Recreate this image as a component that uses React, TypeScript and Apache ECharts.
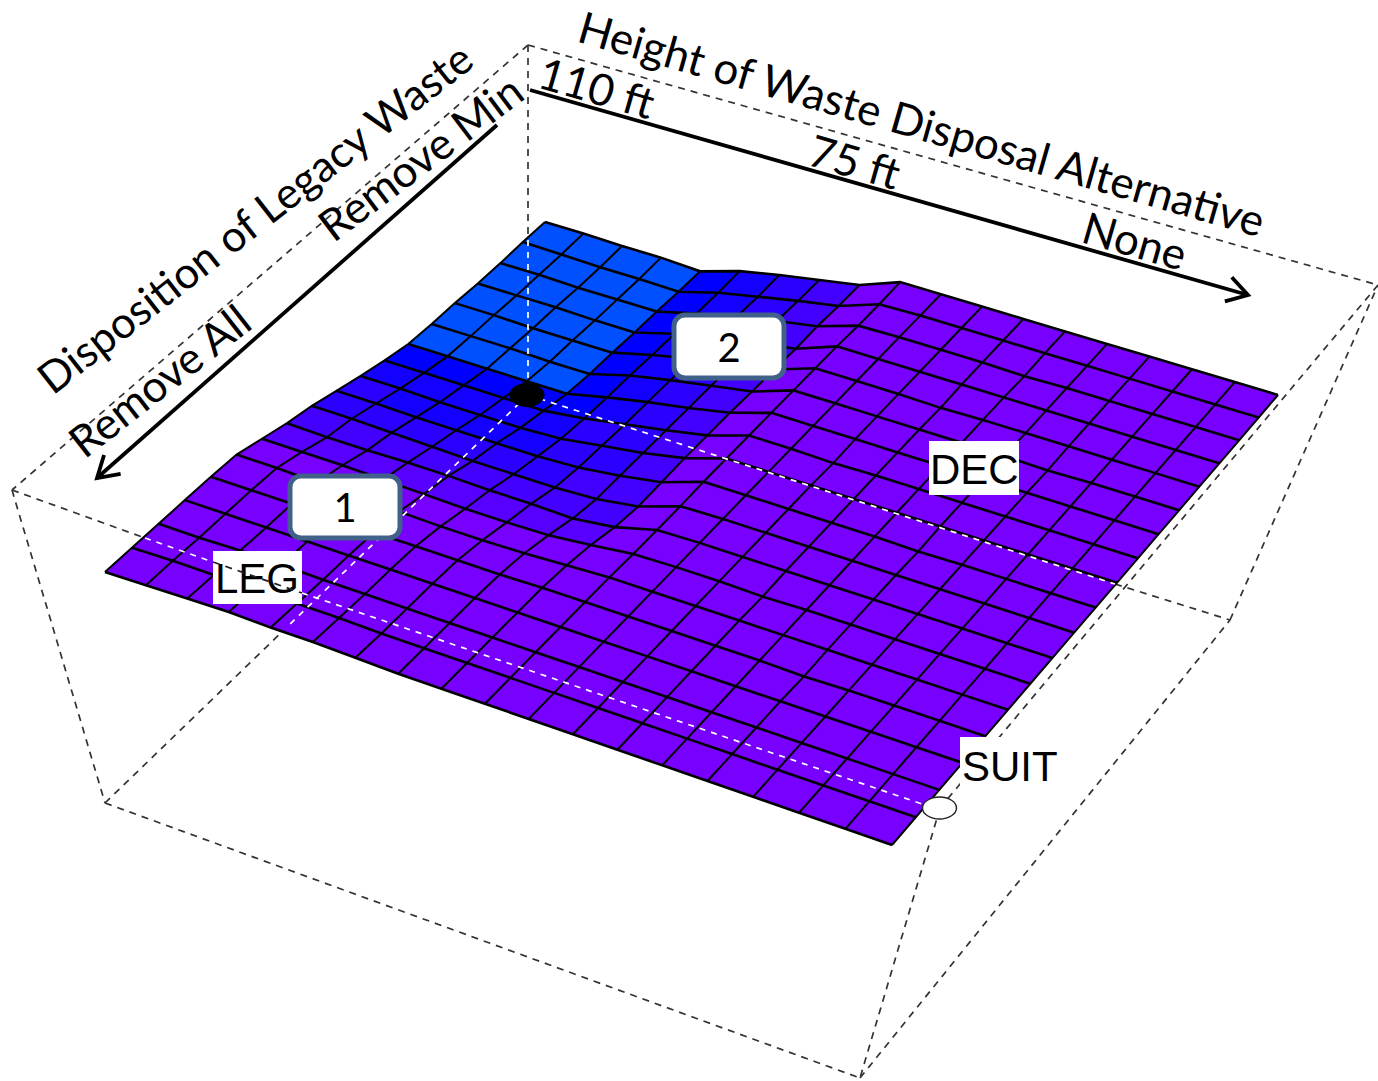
import React, { useEffect, useRef } from "react";
import * as echarts from "echarts";

// Surface depression below the flat plane, one list per row (back edge to front edge), 19 columns (left to right).
const dipR0 = [46, 46, 47, 47, 49, 37, 29, 22, 15, 0, 0, 0, 0, 0, 0, 0, 0, 0, 0];
const dipR1 = [46, 47, 48, 48, 49, 38, 30, 22, 15, 1, 0, 0, 0, 0, 0, 0, 0, 0, 0];
const dipR2 = [47, 47, 48, 48, 48, 38, 29, 21, 14, 1, 0, 0, 0, 1, 0, 0, 0, 0, 0];
const dipR3 = [47, 47, 47, 48, 48, 37, 29, 22, 15, 0, 0, 0, 0, 0, 0, 0, 0, 0, 0];
const dipR4 = [46, 46, 47, 47, 47, 37, 28, 21, 14, 0, 0, 0, 1, 0, 0, 0, 0, 0, 0];
const dipR5 = [46, 46, 46, 47, 47, 36, 28, 21, 14, 0, 0, 0, 0, 0, 0, 1, 0, 0, 0];
const dipR6 = [45, 45, 45, 45, 45, 36, 28, 21, 13, 0, 0, 0, 0, 0, 0, 0, 0, 0, 0];
const dipR7 = [40, 40, 40, 40, 40, 35, 28, 21, 13, 0, 0, 1, 0, 0, 0, 0, 0, 0, 0];
const dipR8 = [34, 34, 35, 35, 35, 33, 27, 21, 13, 0, 0, 0, 0, 0, 0, 0, 0, 0, 0];
const dipR9 = [27, 27, 28, 28, 28, 28, 26, 21, 14, 0, 0, 0, 0, 0, 1, 0, 0, 0, 0];
const dipR10 = [20, 20, 21, 22, 23, 23, 23, 21, 15, 1, 0, 0, 0, 0, 0, 0, 0, 0, 0];
const dipR11 = [15, 16, 16, 15, 15, 16, 16, 17, 12, 1, 0, 0, 0, 0, 0, 0, 0, 0, 0];
const dipR12 = [8, 8, 8, 9, 10, 11, 11, 10, 6, 1, 0, 0, 1, 0, 0, 0, 0, 0, 0];
const dipR13 = [1, 1, 2, 3, 4, 5, 5, 4, 2, 0, 0, 0, 0, 0, 0, 0, 0, 0, 0];
const dipR14 = [0, 0, 0, 1, 1, 1, 1, 1, 0, 0, 0, 0, 0, 0, 1, 0, 0, 0, 0];
const dipR15 = [0, 0, 0, 0, 0, 0, 0, 0, 0, 0, 0, 0, 0, 0, 0, 0, 0, 0, 0];
const dipR16 = [0, 0, -1, -1, 0, 0, 0, 0, 0, 0, 0, 0, 0, 0, 0, 0, 0, 0, 0];
const dipR17 = [0, -1, -1, -2, -1, -1, 0, 0, 0, 0, 0, 0, 0, 0, 0, 0, 0, 0, 0];
const dipR18 = [0, -1, -2, -3, -2, -2, -1, 0, 0, 0, 0, 0, 0, 0, 0, 0, 0, 0, 0];
const dipRows = [dipR0, dipR1, dipR2, dipR3, dipR4, dipR5, dipR6, dipR7, dipR8, dipR9, dipR10, dipR11, dipR12, dipR13, dipR14, dipR15, dipR16, dipR17, dipR18];

// Colour bands: cell mean depression from this value upward gets the colour.
const bandFrom = [45, 38, 31, 23, 15, 11, -99];
const bandColor = ["#0050ff", "#0000ff", "#1400ff", "#2c00ff", "#4400ff", "#5800ff", "#7700ff"];

const heightTicks = ["110 ft", "75 ft", "None"];
const dispositionTicks = ["Remove All", "Remove Min"];
const pointLabels = ["LEG", "DEC", "SUIT"];

const N = dipRows.length - 1;
const BACK = [545, 176], RIGHT = [1278, 395], FRONT = [892, 845], LEFT = [105, 572];

const hom = (() => {
  const [x0, y0] = BACK, [x1, y1] = RIGHT, [x2, y2] = FRONT, [x3, y3] = LEFT;
  const dx1 = x1 - x2, dx2 = x3 - x2, sx = x0 - x1 + x2 - x3;
  const dy1 = y1 - y2, dy2 = y3 - y2, sy = y0 - y1 + y2 - y3;
  const den = dx1 * dy2 - dx2 * dy1;
  const g = (sx * dy2 - dx2 * sy) / den, h = (dx1 * sy - sx * dy1) / den;
  return { a: x1 - x0 + g * x1, b: x3 - x0 + h * x3, c: x0, d: y1 - y0 + g * y1, e: y3 - y0 + h * y3, f: y0, g, h };
})();

function project(c: number, r: number): number[] {
  const u = c / N, v = r / N;
  const w = hom.g * u + hom.h * v + 1;
  return [(hom.a * u + hom.b * v + hom.c) / w, (hom.d * u + hom.e * v + hom.f) / w + dipRows[r][c]];
}

function bandOf(mean: number): string {
  for (let i = 0; i < bandFrom.length; i++) if (mean >= bandFrom[i]) return bandColor[i];
  return bandColor[bandColor.length - 1];
}

// Box edges, black where they run over paper and white where they cross the surface.
const boxDark = [
  [528, 45, 12, 490], [528, 45, 1378, 285], [528, 45, 528, 240],
  [12, 490, 145, 538], [12, 490, 105, 803], [105, 803, 860, 1078],
  [860, 1078, 1230, 620], [1230, 620, 1378, 285], [1378, 285, 940, 808],
  [940, 808, 860, 1078], [105, 803, 286, 628], [1115, 584, 1230, 620],
  [213, 562, 302, 593],
];
const boxLight = [
  [528, 240, 528, 395], [528, 395, 286, 628], [528, 395, 1115, 584],
  [145, 538, 213, 562], [302, 593, 925, 805],
];

const cellData: number[][] = [];
for (let r = 0; r < N; r++) for (let c = 0; c < N; c++) cellData.push([c, r]);
const lineData: number[][] = [];
for (let i = 0; i <= N; i++) { lineData.push([0, i]); lineData.push([1, i]); }

const TEXT_FONT = "Lato";
const HEAD_FONT = "Liberation Sans";
const rad = (d: number) => (d * Math.PI) / 180;

function annot(text: string, x: number, y: number, deg: number, size: number) {
  return {
    type: "text", x, y, rotation: rad(deg), z: 40, silent: true,
    style: { text, fill: "#000", font: `${size}px ${TEXT_FONT}`, textAlign: "center", textVerticalAlign: "middle" },
  };
}
function tag(text: string, x0: number, y0: number, w: number, h: number, tx: number, ty: number) {
  return [
    { type: "rect", z: 10, silent: true, shape: { x: x0, y: y0, width: w, height: h }, style: { fill: "#fff" } },
    { type: "text", x: tx, y: ty, z: 11, silent: true, style: { text, fill: "#000", font: `42px ${HEAD_FONT}`, textAlign: "left", textVerticalAlign: "middle" } },
  ];
}
function badge(text: string, x0: number, y0: number, w: number, h: number) {
  return [
    { type: "rect", z: 50, silent: true, shape: { x: x0, y: y0, width: w, height: h, r: 11 }, style: { fill: "#fff", stroke: "#41618a", lineWidth: 5 } },
    { type: "text", x: x0 + w / 2, y: y0 + h / 2, z: 51, silent: true, style: { text, fill: "#000", font: `40px ${TEXT_FONT}`, textAlign: "center", textVerticalAlign: "middle" } },
  ];
}
function arrow(x1: number, y1: number, x2: number, y2: number) {
  const a = Math.atan2(y2 - y1, x2 - x1), L = 24, s = 0.55;
  return [
    { type: "line", z: 40, silent: true, shape: { x1, y1, x2, y2 }, style: { stroke: "#000", lineWidth: 3.8 } },
    {
      type: "polyline", z: 40, silent: true,
      shape: { points: [
        [x2 - L * Math.cos(a - s), y2 - L * Math.sin(a - s)], [x2, y2], [x2 - L * Math.cos(a + s), y2 - L * Math.sin(a + s)],
      ] },
      style: { stroke: "#000", lineWidth: 3.8, fill: "none" },
    },
  ];
}

const edgeSeries = (name: string, data: number[][], color: string, dash: number[], z: number) => ({
  type: "custom", name, coordinateSystem: "cartesian2d", silent: true, z, clip: false, data,
  encode: { x: 0, y: 1 },
  renderItem: (_: any, api: any) => {
    const a = api.coord([api.value(0), api.value(1)]), b = api.coord([api.value(2), api.value(3)]);
    return { type: "line", shape: { x1: a[0], y1: a[1], x2: b[0], y2: b[1] }, style: { stroke: color, lineWidth: 1.7, lineDash: dash, fill: "none" } };
  },
});

export default function App() {
  const ref = useRef<HTMLDivElement>(null);
  useEffect(() => {
    const chart = echarts.init(ref.current!, undefined, { renderer: "svg" });
    chart.setOption({
      animation: false,
      backgroundColor: "#fff",
      grid: { left: 0, right: 0, top: 0, bottom: 0 },
      xAxis: { type: "value", min: 0, max: 1378, show: false },
      yAxis: { type: "value", min: 0, max: 1081, inverse: true, show: false },
      series: [
        edgeSeries("box", boxDark, "#333", [7, 6], 1),
        {
          type: "custom", name: "surface cells", coordinateSystem: "cartesian2d", silent: true, z: 3, clip: false,
          data: cellData, encode: { x: 0, y: 1 },
          renderItem: (_: any, api: any) => {
            const c = api.value(0), r = api.value(1);
            const mean = (dipRows[r][c] + dipRows[r][c + 1] + dipRows[r + 1][c] + dipRows[r + 1][c + 1]) / 4;
            const fill = bandOf(mean);
            const pts = [project(c, r), project(c + 1, r), project(c + 1, r + 1), project(c, r + 1)].map((p) => api.coord(p));
            return { type: "polygon", shape: { points: pts }, style: { fill, stroke: fill, lineWidth: 0.6 } };
          },
        },
        {
          type: "custom", name: "surface mesh", coordinateSystem: "cartesian2d", silent: true, z: 4, clip: false,
          data: lineData, encode: { x: 0, y: 1 },
          renderItem: (_: any, api: any) => {
            const kind = api.value(0), i = api.value(1);
            const pts: number[][] = [];
            for (let j = 0; j <= N; j++) pts.push(api.coord(kind === 0 ? project(j, i) : project(i, j)));
            return { type: "polyline", shape: { points: pts }, style: { stroke: "#000", lineWidth: kind === 0 ? 2.6 : 2, fill: "none" } };
          },
        },
        edgeSeries("box over surface", boxLight, "#fff", [6, 6], 20),
        edgeSeries("box over label", [boxDark[boxDark.length - 1]], "#222", [7, 6], 21),
      ],
      graphic: { elements: [
        ...tag(pointLabels[0], 213, 551, 89, 53, 215, 578),
        ...tag(pointLabels[1], 929, 441, 90, 54, 930, 469),
        ...tag(pointLabels[2], 960, 737, 96, 50, 962, 766),
        { type: "ellipse", z: 30, silent: true, shape: { cx: 527, cy: 395, rx: 17.5, ry: 12 }, style: { fill: "#000" } },
        { type: "ellipse", z: 30, silent: true, shape: { cx: 939.5, cy: 808, rx: 17, ry: 11 }, style: { fill: "#fff", stroke: "#222", lineWidth: 1.4 } },
        ...arrow(530, 90, 1248, 295),
        ...arrow(497, 125, 97, 478),
        annot("Height of Waste Disposal Alternative", 922, 123, -16, 44),
        annot("Disposition of Legacy Waste", 254, 217, 38, 43.4),
        annot(dispositionTicks[0], 159, 380, 38, 44),
        annot(dispositionTicks[1], 420, 157, 37, 44),
        annot(heightTicks[0], 597, 87, -16, 44),
        annot(heightTicks[1], 855, 161, -16, 44),
        annot(heightTicks[2], 1135, 240, -16, 44),
        ...badge("1", 290, 476, 110, 62),
        ...badge("2", 674, 315, 110, 63),
      ] },
    });
    return () => chart.dispose();
  }, []);
  return <div ref={ref} style={{ position: "absolute", left: 0, top: 0, width: 1378, height: 1081 }} />;
}
